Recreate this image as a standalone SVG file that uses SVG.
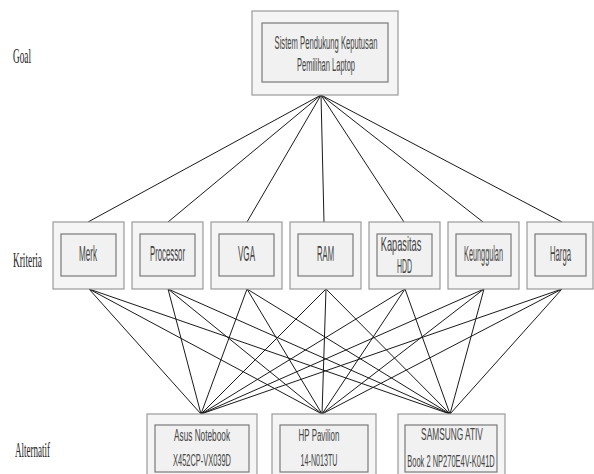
<svg xmlns="http://www.w3.org/2000/svg" width="594" height="474" viewBox="0 0 594 474">
<style>
.outer{fill:#f5f5f5;stroke:#9a9a9a;stroke-width:1.2}
.inner{fill:#f1f1f1;stroke:#7a7a7a;stroke-width:1.2}
.t{font-family:"Liberation Sans","Arial",sans-serif;fill:#444;text-anchor:middle}
.side{font-family:"Liberation Serif","Times New Roman",serif;font-size:21px;fill:#222}
.ln{stroke:#1a1a1a;stroke-width:1;fill:none}
</style>
<rect width="594" height="474" fill="#ffffff"/>
<text class="side" transform="translate(13,63) scale(0.44,1)">Goal</text>
<text class="side" transform="translate(13,267) scale(0.444,1)">Kriteria</text>
<text class="side" transform="translate(15,457) scale(0.43,1)">Alternatif</text>
<g id="connectors">
<line class="ln" x1="321" y1="95" x2="88" y2="222"/>
<line class="ln" x1="321" y1="95" x2="168" y2="222"/>
<line class="ln" x1="321" y1="95" x2="247" y2="222"/>
<line class="ln" x1="321" y1="95" x2="324" y2="222"/>
<line class="ln" x1="321" y1="95" x2="404" y2="222"/>
<line class="ln" x1="321" y1="95" x2="483" y2="222"/>
<line class="ln" x1="321" y1="95" x2="562" y2="222"/>
<line class="ln" x1="89" y1="289" x2="201" y2="414"/>
<line class="ln" x1="89" y1="289" x2="322" y2="414"/>
<line class="ln" x1="89" y1="289" x2="450" y2="414"/>
<line class="ln" x1="168" y1="289" x2="201" y2="414"/>
<line class="ln" x1="168" y1="289" x2="322" y2="414"/>
<line class="ln" x1="168" y1="289" x2="450" y2="414"/>
<line class="ln" x1="247" y1="289" x2="201" y2="414"/>
<line class="ln" x1="247" y1="289" x2="322" y2="414"/>
<line class="ln" x1="247" y1="289" x2="450" y2="414"/>
<line class="ln" x1="326" y1="289" x2="201" y2="414"/>
<line class="ln" x1="326" y1="289" x2="322" y2="414"/>
<line class="ln" x1="326" y1="289" x2="450" y2="414"/>
<line class="ln" x1="405" y1="289" x2="201" y2="414"/>
<line class="ln" x1="405" y1="289" x2="322" y2="414"/>
<line class="ln" x1="405" y1="289" x2="450" y2="414"/>
<line class="ln" x1="484" y1="289" x2="201" y2="414"/>
<line class="ln" x1="484" y1="289" x2="322" y2="414"/>
<line class="ln" x1="484" y1="289" x2="450" y2="414"/>
<line class="ln" x1="562" y1="289" x2="201" y2="414"/>
<line class="ln" x1="562" y1="289" x2="322" y2="414"/>
<line class="ln" x1="562" y1="289" x2="450" y2="414"/>
</g>
<g id="goal">
<rect class="outer" x="252" y="11" width="146" height="84"/>
<rect class="inner" x="262" y="23" width="126" height="59"/>
<text class="t" font-size="19" transform="translate(326,49) scale(0.403,1)">Sistem Pendukung Keputusan</text>
<text class="t" font-size="19" transform="translate(326,71) scale(0.395,1)">Pemilihan Laptop</text>
</g>
<g id="merk">
<rect class="outer" x="53" y="222" width="71" height="67"/>
<rect class="inner" x="61" y="234" width="55" height="42"/>
<text class="t" font-size="22" transform="translate(88,261) scale(0.368,1)">Merk</text>
</g>
<g id="processor">
<rect class="outer" x="132" y="222" width="71" height="67"/>
<rect class="inner" x="140" y="234" width="55" height="42"/>
<text class="t" font-size="22" transform="translate(167.5,261) scale(0.354,1)">Processor</text>
</g>
<g id="vga">
<rect class="outer" x="211" y="222" width="71" height="67"/>
<rect class="inner" x="219" y="234" width="55" height="42"/>
<text class="t" font-size="22" transform="translate(246.5,261) scale(0.366,1)">VGA</text>
</g>
<g id="ram">
<rect class="outer" x="290" y="222" width="71" height="67"/>
<rect class="inner" x="298" y="234" width="55" height="42"/>
<text class="t" font-size="22" transform="translate(325.5,261) scale(0.35,1)">RAM</text>
</g>
<g id="kapasitas">
<rect class="outer" x="369" y="222" width="71" height="67"/>
<rect class="inner" x="377" y="234" width="55" height="42"/>
<text class="t" font-size="21" transform="translate(401,251) scale(0.44,1)">Kapasitas</text>
<text class="t" font-size="21" transform="translate(404.5,273) scale(0.33,1)">HDD</text>
</g>
<g id="keunggulan">
<rect class="outer" x="448" y="222" width="71" height="67"/>
<rect class="inner" x="456" y="234" width="55" height="42"/>
<text class="t" font-size="22" transform="translate(483.5,261) scale(0.332,1)">Keunggulan</text>
</g>
<g id="harga">
<rect class="outer" x="527" y="222" width="66" height="67"/>
<rect class="inner" x="535" y="234" width="51" height="42"/>
<text class="t" font-size="22" transform="translate(560.5,261) scale(0.35,1)">Harga</text>
</g>
<g id="asus">
<rect class="outer" x="147" y="414" width="110" height="64"/>
<rect class="inner" x="155" y="425" width="94" height="47"/>
<text class="t" font-size="17" transform="translate(202,441) scale(0.486,1)">Asus Notebook</text>
<text class="t" font-size="17" transform="translate(202,466) scale(0.438,1)">X452CP-VX039D</text>
</g>
<g id="hp">
<rect class="outer" x="272" y="414" width="104" height="64"/>
<rect class="inner" x="280" y="425" width="88" height="47"/>
<text class="t" font-size="17" transform="translate(319,441) scale(0.467,1)">HP Pavilion</text>
<text class="t" font-size="17" transform="translate(319,466) scale(0.42,1)">14-N013TU</text>
</g>
<g id="samsung">
<rect class="outer" x="398" y="414" width="107" height="64"/>
<rect class="inner" x="405" y="425" width="92" height="47"/>
<text class="t" font-size="17" transform="translate(452,440) scale(0.49,1)">SAMSUNG ATIV</text>
<text class="t" font-size="17" transform="translate(451,467) scale(0.441,1)">Book 2 NP270E4V-K041D</text>
</g>
</svg>
